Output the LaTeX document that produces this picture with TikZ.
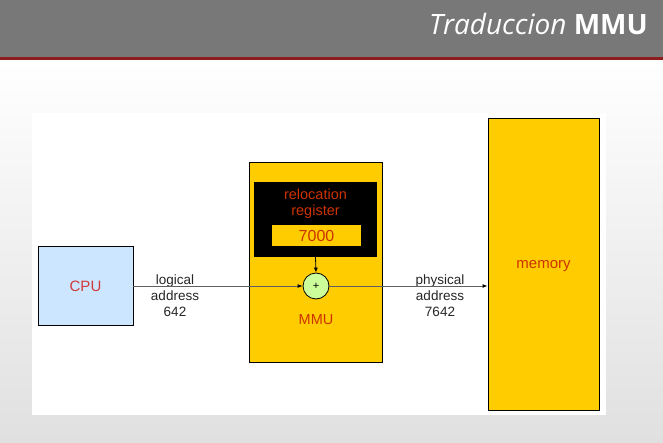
\documentclass[tikz,border=0pt]{standalone}
\usepackage{fontspec}
\setmainfont{Liberation Sans}
\newfontfamily\titlefont{Open Sans}
\usetikzlibrary{arrows.meta}

\definecolor{barGray}{HTML}{787878}
\definecolor{barRed}{HTML}{8E1C1C}
\definecolor{pageGray}{HTML}{E0E0E0}
\definecolor{unitYellow}{HTML}{FFCC00}
\definecolor{cpuBlue}{HTML}{CCE6FF}
\definecolor{addGreen}{HTML}{CCFF99}
\definecolor{textRed}{HTML}{CC3300}
\definecolor{cpuRed}{HTML}{D03A3A}
\definecolor{wireGray}{HTML}{606060}

\tikzset{
  unit/.style={draw=black, line width=0.9pt, inner sep=0pt},
  redtext/.style={text=textRed, font=\fontsize{14.5}{16}\selectfont},
  addrlabel/.style={align=center, font=\fontsize{13.5}{16}\selectfont, text=black!85},
  wire/.style={draw=wireGray, line width=0.9pt, -{Latex[length=5pt,width=4pt,color=black]}},
}

\begin{document}
\begin{tikzpicture}[x=1pt,y=-1pt]
\useasboundingbox (0,0) rectangle (663,443);

% page background
\shade[top color=white, bottom color=pageGray] (0,60) rectangle (663,443);

% title bar
\fill[barGray] (0,0) rectangle (663,57);
\fill[barRed] (0,57) rectangle (663,60.5);
\node[anchor=base east, text=white, inner sep=0pt] (title) at (648,35)
  {\titlefont\fontsize{28}{32}\selectfont\itshape Traduccion \upshape\bfseries MMU};

% white drawing area
\fill[white] (32,113) rectangle (606,415);

% CPU
\node[unit, fill=cpuBlue, minimum width=95, minimum height=79,
      text=cpuRed, font=\fontsize{15}{17}\selectfont] (cpu) at (85.5,286) {CPU};

% MMU with relocation register
\node[unit, fill=unitYellow, minimum width=133, minimum height=200] (mmu) at (315.5,262) {};
\node[fill=black, minimum width=123, minimum height=75, inner sep=0pt] (reg) at (315.5,219.5) {};
\node[redtext, align=center, inner sep=0pt] (reglabel) at (315.5,203.5)
  {relocation\\register};
\node[fill=unitYellow, minimum width=89, minimum height=21, inner sep=0pt,
      text=textRed, font=\fontsize{16}{18}\selectfont] (val) at (316.5,235.5) {7000};
\node[circle, draw=black, line width=0.8pt, fill=addGreen, minimum size=26, inner sep=0pt,
      font=\fontsize{11}{12}\selectfont] (add) at (316,286) {+};
\node[redtext] (mmulabel) at (316,320) {MMU};

% memory
\node[unit, fill=unitYellow, minimum width=111, minimum height=292] (mem) at (543.5,264) {};
\node[redtext, font=\fontsize{15}{17}\selectfont] (memlabel) at (543.5,266) {memory};

% address labels
\node[addrlabel] (logical) at (175,296) {logical\\address\\642};
\node[addrlabel] (physical) at (440,296) {physical\\address\\7642};

% connections
\draw[wire] (cpu.east) -- (add.west);
\draw[wire] (add.east) -- (add.east -| mem.west);
\draw[draw=black, line width=0.8pt, -{Latex[length=5pt,width=4pt]}] (reg.south) -- (add.north);
\end{tikzpicture}
\end{document}
